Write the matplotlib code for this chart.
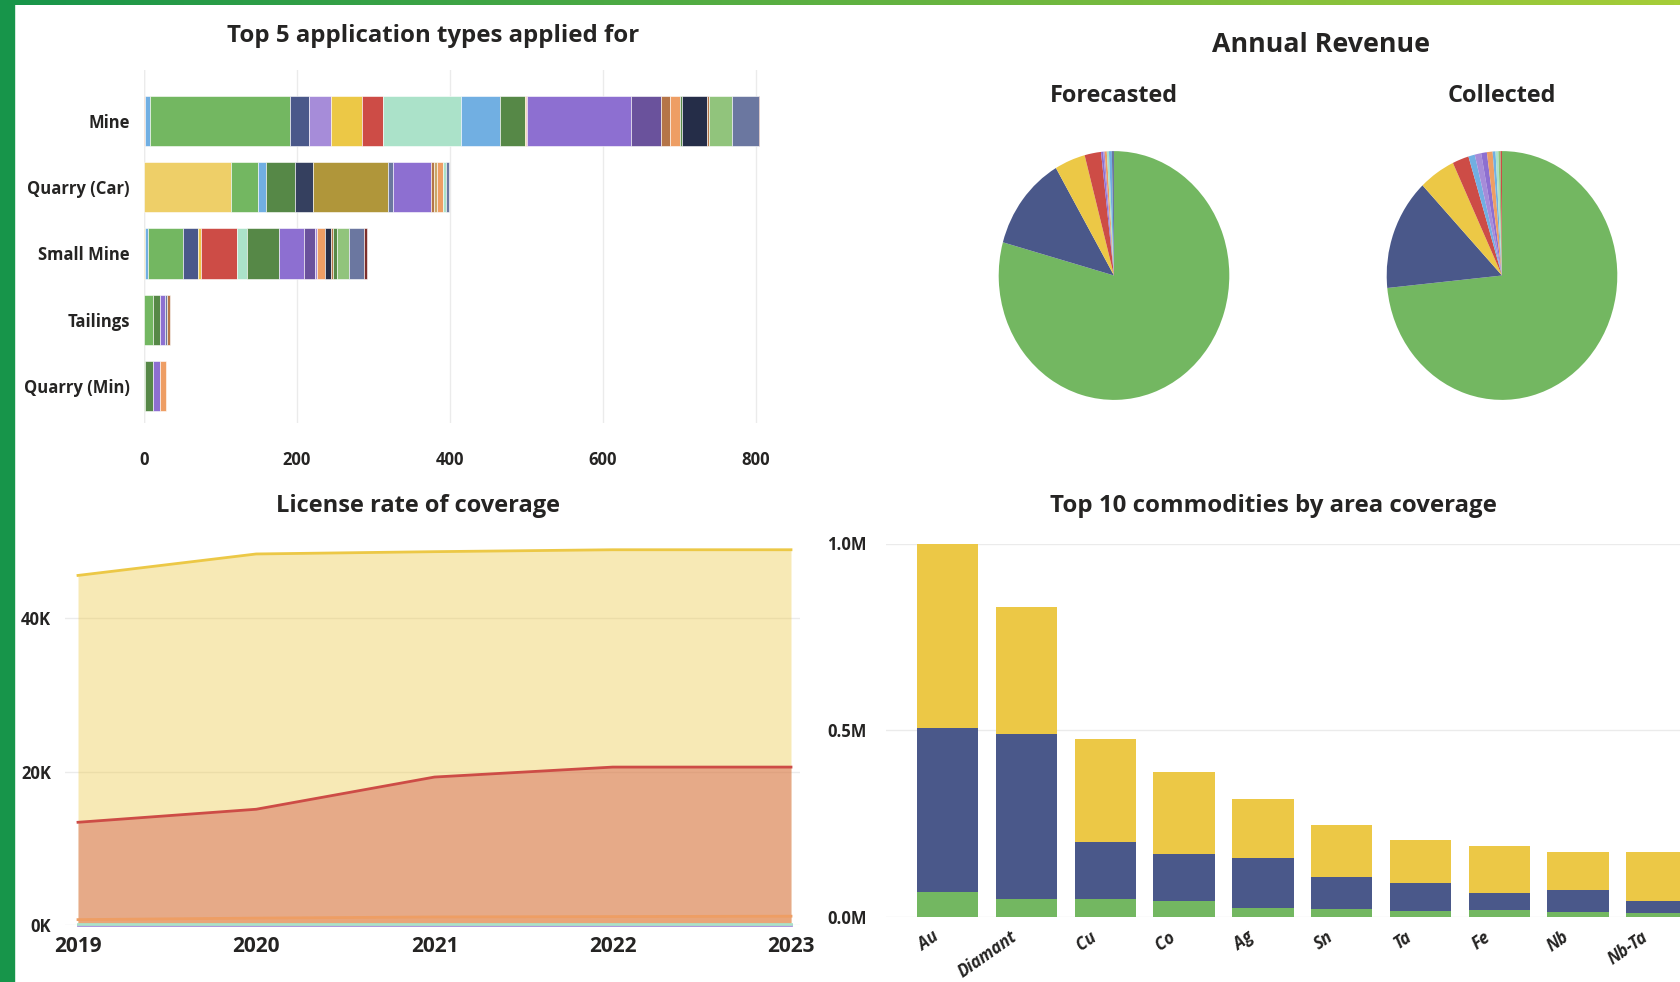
"""Mining licence dashboard: application types, revenue, coverage and commodities."""

import matplotlib

matplotlib.use("Agg")
import matplotlib.pyplot as plt
import numpy as np
from matplotlib.colors import LinearSegmentedColormap
from matplotlib.patches import Rectangle
from matplotlib.ticker import FuncFormatter

W, H = 1681, 982
TEXT = "#252423"
GRID = "#ebebeb"

PALETTE = {
    "green": "#73b761",
    "navy": "#4a588a",
    "lavender": "#a68cd9",
    "yellow": "#ecc846",
    "paleyellow": "#eecf68",
    "red": "#cd4c46",
    "mint": "#abe2c9",
    "ltblue": "#71afe2",
    "dkgreen": "#568847",
    "purple": "#8d6fd1",
    "dkpurple": "#6a529c",
    "brown": "#b57548",
    "orange": "#ee9e64",
    "darknavy": "#252d48",
    "slatenavy": "#35405f",
    "ltgreen": "#91c47c",
    "slate": "#6b77a0",
    "darkred": "#7d2e2b",
    "olive": "#b0963a",
    "tan": "#c9a86a",
}

# --- Top 5 application types (stacked segments, one list per row) ---
app_types = ["Mine", "Quarry (Car)", "Small Mine", "Tailings", "Quarry (Min)"]
mine_keys = ["orange", "ltblue", "green", "navy", "lavender", "yellow", "red", "mint",
             "ltblue", "dkgreen", "yellow", "red", "purple", "dkpurple", "brown", "orange",
             "dkgreen", "darknavy", "brown", "ltgreen", "slate", "darkred"]
mine_vals = [1.5, 6.5, 182.6, 25.4, 28.6, 41.1, 26.7, 102.6,
             50.7, 32.0, 1.5, 1.8, 135.6, 39.0, 12.4, 13.5,
             1.5, 33.0, 3.0, 30.0, 34.7, 2.3]
quarry_car_keys = ["paleyellow", "green", "ltblue", "dkgreen", "slatenavy", "olive", "slate",
                   "purple", "brown", "tan", "orange", "mint", "slate"]
quarry_car_vals = [114, 35, 11, 38, 23, 98, 7, 50, 4, 3, 8, 4, 4]
small_mine_keys = ["yellow", "ltblue", "green", "navy", "yellow", "red", "mint", "dkgreen",
                   "purple", "dkpurple", "lavender", "orange", "darknavy", "brown", "dkgreen",
                   "ltgreen", "slate", "darkred"]
small_mine_vals = [2, 4, 46, 19, 4, 47, 13, 42, 33, 14, 2, 11, 8, 2, 5, 16, 20, 4]
tailings_keys = ["green", "dkgreen", "purple", "slate", "brown"]
tailings_vals = [12, 9.7, 6.3, 2, 4]
quarry_min_keys = ["ltgreen", "dkgreen", "purple", "orange"]
quarry_min_vals = [1.5, 10.5, 9.7, 7.8]

# --- Annual revenue pies (percent shares, clockwise from 12 o'clock) ---
forecast_keys = ["green", "navy", "yellow", "red", "purple", "lavender", "orange", "mint",
                 "ltblue", "slate"]
forecast_share = [79.3, 12.3, 4.3, 2.3, 0.3, 0.2, 0.3, 0.3, 0.4, 0.3]
collected_keys = ["green", "navy", "yellow", "red", "ltblue", "lavender", "purple", "orange",
                  "ltblue", "mint", "ltgreen", "red"]
collected_share = [73.4, 14.5, 5.1, 2.3, 0.9, 0.9, 0.8, 0.8, 0.4, 0.4, 0.3, 0.2]

# --- License rate of coverage (overlapping areas) ---
years = [2019, 2020, 2021, 2022, 2023]
cov_yellow = [45600, 48400, 48700, 48950, 48950]
cov_red = [13400, 15100, 19300, 20600, 20600]
cov_orange = [700, 900, 1050, 1100, 1150]
cov_lavender = [30, 30, 30, 30, 30]
cov_mint = [150, 150, 150, 150, 150]

# --- Top 10 commodities by area coverage (stacked, in millions) ---
commodities = ["Au", "Diamant", "Cu", "Co", "Ag", "Sn", "Ta", "Fe", "Nb", "Nb-Ta"]
comm_green = [0.066, 0.046, 0.046, 0.041, 0.024, 0.020, 0.015, 0.018, 0.012, 0.010]
comm_navy = [0.440, 0.443, 0.155, 0.127, 0.134, 0.087, 0.074, 0.045, 0.060, 0.033]
comm_yellow = [0.494, 0.341, 0.276, 0.220, 0.158, 0.138, 0.115, 0.127, 0.100, 0.129]

plt.rcParams["font.family"] = ["Open Sans", "DejaVu Sans"]
plt.rcParams["font.weight"] = "bold"

fig = plt.figure(figsize=(W / 100, H / 100), dpi=100)
fig.patch.set_facecolor("white")


def px_axes(left, top, right, bottom):
    """Add axes from full-size pixel coordinates."""
    return fig.add_axes([left / W, 1 - bottom / H, (right - left) / W, (bottom - top) / H])


def fig_text(x, y, s, size):
    fig.text(x / W, 1 - y / H, s, ha="center", va="center", fontsize=size,
             fontweight="bold", color=TEXT)


def clean(ax):
    for sp in ax.spines.values():
        sp.set_visible(False)
    ax.tick_params(length=0, colors=TEXT)


# frame: green left band and gradient top band
fig.patches.append(Rectangle((0, 0), 14 / W, 1, transform=fig.transFigure,
                             color="#17954a", zorder=10))
band = fig.add_axes([0, 1 - 5 / H, 1, 5 / H], zorder=11)
band.imshow(np.linspace(0, 1, 256).reshape(1, -1), aspect="auto",
            cmap=LinearSegmentedColormap.from_list("band", ["#17954a", "#a6cd38"]))
band.axis("off")

# ---- top-left: stacked horizontal bars ----
ax1 = px_axes(143.7, 70, 760.4, 423)
rows = [(mine_keys, mine_vals), (quarry_car_keys, quarry_car_vals),
        (small_mine_keys, small_mine_vals), (tailings_keys, tailings_vals),
        (quarry_min_keys, quarry_min_vals)]
for i, (keys, vals) in enumerate(rows):
    left = 0
    for k, v in zip(keys, vals):
        ax1.barh(i, v, left=left, height=0.76, color=PALETTE[k],
                 edgecolor="white", linewidth=0.4, zorder=3)
        left += v
ax1.set_xlim(0, 806)
ax1.set_ylim(4.56, -0.77)
ax1.set_xticks([0, 200, 400, 600, 800])
ax1.set_yticks(range(len(app_types)))
ax1.set_yticklabels(app_types)
ax1.grid(axis="x", color=GRID, linewidth=1, zorder=0)
clean(ax1)
ax1.tick_params(axis="x", pad=20, labelsize=12)
ax1.tick_params(axis="y", pad=10, labelsize=12)
ax1.axvline(0, color=GRID, linewidth=1, zorder=0)
fig_text(433, 36, "Top 5 application types applied for", 17.3)

# ---- top-right: pies (drawn slightly taller than wide, as in the source) ----
fig_text(1321, 45, "Annual Revenue", 19.3)
for cx, label, keys, share in [(1114, "Forecasted", forecast_keys, forecast_share),
                               (1502, "Collected", collected_keys, collected_share)]:
    fig_text(cx, 96.5, label, 16.9)
    axp = px_axes(cx - 115.3, 275.5 - 124.4, cx + 115.3, 275.5 + 124.4)
    axp.pie(share, colors=[PALETTE[k] for k in keys], startangle=90,
            counterclock=False, wedgeprops=dict(linewidth=0))
    axp.set_aspect("auto")
    axp.set_xlim(-1, 1)
    axp.set_ylim(-1, 1)
    axp.axis("off")

# ---- bottom-left: overlapping areas ----
ax3 = px_axes(65, 541.7, 800, 925)
for series, key in [(cov_yellow, "yellow"), (cov_red, "red"), (cov_orange, "orange"),
                    (cov_lavender, "lavender"), (cov_mint, "mint")]:
    ax3.fill_between(years, series, 0, color=PALETTE[key], alpha=0.4, linewidth=0, zorder=2)
    ax3.plot(years, series, color=PALETTE[key], linewidth=2, zorder=3, clip_on=False)
ax3.set_xlim(2019 - 13 / 178.25, 2023 + 9 / 178.25)
ax3.set_ylim(0, 50000)
ax3.set_xticks(years)
ax3.set_yticks([0, 20000, 40000])
ax3.yaxis.set_major_formatter(FuncFormatter(lambda v, _: f"{v / 1000:.0f}K"))
ax3.grid(axis="y", color=GRID, linewidth=1, zorder=0)
clean(ax3)
ax3.tick_params(axis="x", pad=8, labelsize=15)
ax3.tick_params(axis="y", pad=10, labelsize=12)
fig_text(418, 506, "License rate of coverage", 17)

# ---- bottom-right: stacked commodity bars ----
ax4 = px_axes(886, 543.5, 1720, 916.6)
x = np.arange(len(commodities))
ax4.bar(x, comm_green, width=0.78, color=PALETTE["green"], zorder=3)
ax4.bar(x, comm_navy, width=0.78, bottom=comm_green, color=PALETTE["navy"], zorder=3)
ax4.bar(x, comm_yellow, width=0.78, bottom=np.add(comm_green, comm_navy),
        color=PALETTE["yellow"], zorder=3)
ax4.set_xlim(-0.782, 9.8)
ax4.set_ylim(0, 1.0)
ax4.set_yticks([0, 0.5, 1.0])
ax4.yaxis.set_major_formatter(FuncFormatter(lambda v, _: f"{v:.1f}M"))
ax4.set_xticks(x)
ax4.set_xticklabels([])
for xi, name in zip(x, commodities):
    ax4.annotate(name, xy=(xi, 0), xycoords="data", xytext=(-11.5, -8),
                 textcoords="offset points", rotation=35, ha="right", va="top",
                 rotation_mode="anchor", fontsize=12, style="italic",
                 fontweight="bold", color=TEXT, annotation_clip=False)
ax4.grid(axis="y", color=GRID, linewidth=1, zorder=0)
clean(ax4)
ax4.tick_params(axis="y", pad=14, labelsize=12)
fig_text(1273, 506, "Top 10 commodities by area coverage", 17.3)

fig.savefig("out.png", dpi=100)
plt.close(fig)
